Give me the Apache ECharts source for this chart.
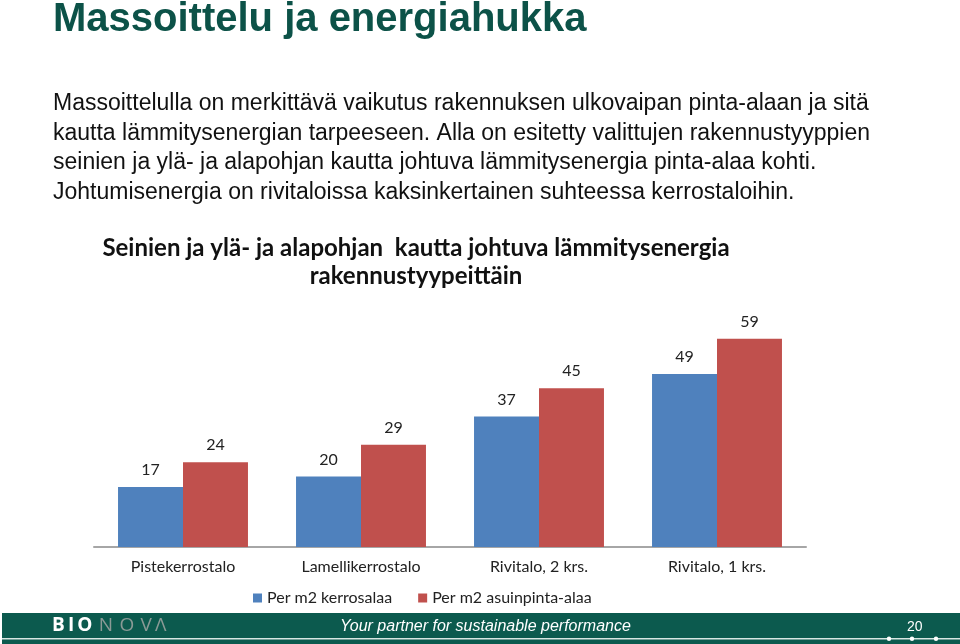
<!DOCTYPE html>
<html><head><meta charset="utf-8">
<script src="https://cdn.jsdelivr.net/npm/echarts@6/dist/echarts.min.js"></script>
<style>html,body{margin:0;padding:0;background:#fff}#c{width:960px;height:644px}</style>
</head><body><div id="c"></div>
<script>
const categories = ['Pistekerrostalo', 'Lamellikerrostalo', 'Rivitalo, 2 krs.', 'Rivitalo, 1 krs.'];
const seriesNames = ['Per m2 kerrosalaa', 'Per m2 asuinpinta-alaa'];
const perKerrosala = [17, 20, 37, 49];
const perAsuinpintaala = [24, 29, 45, 59];
const slideTitle = 'Massoittelu ja energiahukka';
const bodyLines = [
  'Massoittelulla on merkittävä vaikutus rakennuksen ulkovaipan pinta-alaan ja sitä',
  'kautta lämmitysenergian tarpeeseen. Alla on esitetty valittujen rakennustyyppien',
  'seinien ja ylä- ja alapohjan kautta johtuva lämmitysenergia pinta-alaa kohti.',
  'Johtumisenergia on rivitaloissa kaksinkertainen suhteessa kerrostaloihin.'
];
const chartTitle = 'Seinien ja ylä- ja alapohjan  kautta johtuva lämmitysenergia\nrakennustyypeittäin';
const footerText = 'Your partner for sustainable performance';
const pageNo = '20';

const chart = echarts.init(document.getElementById('c'), null, {renderer: 'canvas'});
const teal = '#0c5a4e';
const calibri = 'Lato, "Open Sans", sans-serif';
const arial = '"Liberation Sans", Arial, sans-serif';
const labelStyle = {show: true, position: 'top', distance: 9, color: '#222', fontSize: 16, fontFamily: calibri};
const ts = '\u2009';

chart.setOption({
  animation: false,
  backgroundColor: '#fff',
  title: [
    {text: slideTitle, left: 53, top: 0, padding: 0, textStyle: {color: '#0c5248', fontSize: 40, fontWeight: 'bold', fontFamily: arial}},
    {text: chartTitle, left: 416, top: 234, padding: 0, textAlign: 'center',
     textStyle: {color: '#111', fontSize: 24, fontWeight: 'bold', fontFamily: calibri, lineHeight: 28, align: 'center'}}
  ],
  legend: {
    data: seriesNames, left: 253, top: 590, padding: 0, itemWidth: 9, itemHeight: 9, itemGap: 26,
    icon: 'rect', textStyle: {color: '#222', fontSize: 16, fontFamily: calibri}
  },
  grid: {left: 94, right: 154, top: 300, bottom: 97, containLabel: false},
  xAxis: {
    type: 'category', data: categories,
    axisLine: {lineStyle: {color: '#a6a6a6', width: 2}},
    axisTick: {show: false},
    axisLabel: {color: '#222', fontSize: 16, fontFamily: calibri, margin: 12}
  },
  yAxis: {type: 'value', min: 0, max: 70, show: false, splitLine: {show: false}},
  series: [
    {name: seriesNames[0], type: 'bar', data: perKerrosala, barGap: '0%', barCategoryGap: '27%',
     itemStyle: {color: '#4f81bd'}, label: labelStyle},
    {name: seriesNames[1], type: 'bar', data: perAsuinpintaala, barGap: '0%', barCategoryGap: '27%',
     itemStyle: {color: '#c0504d'}, label: labelStyle}
  ],
  graphic: [
    {type: 'text', left: 53, top: 89, style: {text: bodyLines.join('\n'), fill: '#111', fontSize: 23,
      fontFamily: arial, lineHeight: 29.5}},
    {type: 'rect', shape: {x: 2, y: 613, width: 958, height: 31}, style: {fill: teal}},
    {type: 'rect', shape: {x: 2, y: 638, width: 958, height: 1.5}, style: {fill: '#d8e6e2'}},
    {type: 'circle', shape: {cx: 889, cy: 638.8, r: 2.2}, style: {fill: '#fff'}},
    {type: 'circle', shape: {cx: 912, cy: 638.8, r: 2.2}, style: {fill: '#fff'}},
    {type: 'circle', shape: {cx: 936, cy: 638.8, r: 2.2}, style: {fill: '#fff'}},
    {type: 'text', left: 52, top: 616, style: {rich: {a: {fill: '#fff', fontSize: 19, fontWeight: 'bold', fontFamily: '"Open Sans", sans-serif'}, b: {fill: '#8a9a96', fontSize: 19, fontFamily: '"Open Sans", sans-serif'}}, text: '{a|B' + ts + 'I' + ts + 'O}{b|' + ts + ts + 'N' + ts + ts + 'O' + ts + ts + 'V' + ts + 'Λ}'}},
    {type: 'text', left: 340, top: 619, style: {text: footerText, fill: '#fff', fontSize: 16, fontStyle: 'italic', fontFamily: arial}},
    {type: 'text', left: 907, top: 620, style: {text: pageNo, fill: '#fff', fontSize: 14, fontFamily: arial}}
  ]
});
</script></body></html>
